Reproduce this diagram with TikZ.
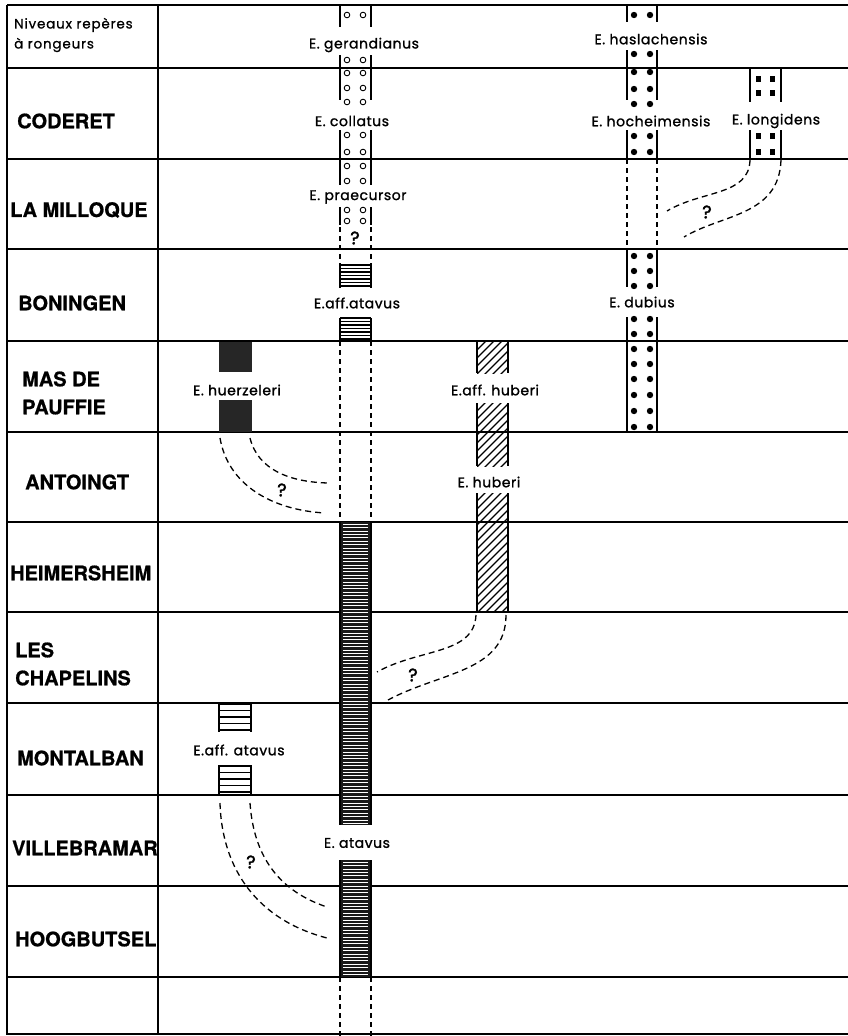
\documentclass[tikz,border=0pt]{standalone}
\usepackage{fontspec}
\setmainfont{TeX Gyre Heros}[BoldFeatures={FakeBold=0.8}]
\newfontfamily\geo[LetterSpace=4,FakeBold=1.3]{Poppins}
\newfontfamily\geoq[FakeBold=2]{Poppins}
\newfontfamily\geohdr[LetterSpace=6,FakeBold=0.8]{Poppins}
\begin{document}
\begin{tikzpicture}[x=1pt,y=-1pt,
  gridline/.style={line width=1.4pt},
  coledge/.style={line width=2pt},
  dashedge/.style={line width=1.4pt, dash pattern=on 5pt off 4pt},
  curvy/.style={line width=1.3pt, dash pattern=on 6pt off 4pt},
  rowlab/.style={font=\bfseries\fontsize{20}{24}\selectfont, anchor=west, inner sep=0pt, align=left},
  sp/.style={font=\geo\fontsize{14}{16}\selectfont, inner sep=0pt},
  qm/.style={font=\geoq\fontsize{18}{18}\selectfont, inner sep=0pt},
  hdr/.style={font=\geohdr\fontsize{13.5}{20}\selectfont, anchor=west, inner sep=0pt, align=left}]
\useasboundingbox (0,0) rectangle (848,1036);
% ---------------- table grid
\foreach \yy in {5,68,159,249,341,432,522,612,703,795,886,977,1034}
  \draw[gridline] (7,\yy) -- (848,\yy);
\draw[gridline] (7,5) -- (7,1035);
\draw[gridline] (158,5) -- (158,1035);
% ---------------- row labels
\node[hdr] (hdr) at (14,35) {Niveaux repères\\à rongeurs};
\node[rowlab] (r1) at (17,121) {CODERET};
\node[rowlab] (r2) at (10,210) {LA MILLOQUE};
\node[rowlab] (r3) at (18,303) {BONINGEN};
\node[rowlab] (r4) at (22,393) {MAS DE\\[4pt]PAUFFIE};
\node[rowlab] (r5) at (25,482) {ANTOINGT};
\node[rowlab] (r6) at (10,573) {HEIMERSHEIM};
\node[rowlab] (r7) at (15,664) {LES\\[4pt]CHAPELINS};
\node[rowlab] (r8) at (17,758) {MONTALBAN};
\node[rowlab] (r9) at (12,848) {VILLEBRAMAR};
\node[rowlab] (r10) at (15,939) {HOOGBUTSEL};
% ---------------- open circle column (340-371)
\foreach \a/\b in {5/27,55/100,130/185,207/225}{
  \draw[coledge] (340,\a) -- (340,\b);
  \draw[coledge] (371,\a) -- (371,\b);}
\foreach \yy in {15,60,73,88,102,135,152,166,181,210,221}{
  \draw[line width=0.9pt] (347,\yy) circle (2.8);
  \draw[line width=0.9pt] (363,\yy) circle (2.8);}
% dashed main column
\foreach \a/\b in {227/265,341/522,977/1036}{
  \draw[dashedge] (340,\a) -- (340,\b);
  \draw[dashedge] (371,\a) -- (371,\b);}
\node[qm] (q0) at (355,238) {?};
% Boningen aff. atavus bars
\foreach \a/\b in {265/288,318/341}{
  \foreach \yy in {0,3.5,...,23} \draw[line width=1.2pt] (340,\a+\yy) -- (371,\a+\yy);
  \draw[coledge] (340,\a) -- (340,\b);
  \draw[coledge] (371,\a) -- (371,\b);}
% E. atavus bars
\foreach \a/\b in {522/825,860/977}{
  \fill[black!90] (340,\a) rectangle (371,\b);
  \pgfmathsetmacro{\n}{int((\b-\a)/3.4)}
  \foreach \k in {1,...,\n} \draw[white, line width=0.8pt] (343,\a+\k*3.4-1.2) -- (368,\a+\k*3.4-1.2);
  \draw[coledge] (340,\a) -- (340,\b);
  \draw[coledge] (371,\a) -- (371,\b);}
% ---------------- filled dot column (627-657)
\foreach \a/\b in {5/22,50/100,130/158,249/287,317/432}{
  \draw[coledge] (627,\a) -- (627,\b);
  \draw[coledge] (657,\a) -- (657,\b);}
\foreach \yy in {15,54,72,89,104,136,152,256,271,286,319,334,349,364,379,395,411,427}{
  \fill (634,\yy) circle (3.2);
  \fill (650,\yy) circle (3.2);}
\draw[dashedge] (627,159) -- (627,249);
\draw[dashedge] (657,159) -- (657,249);
% ---------------- longidens column (750-781)
\foreach \a/\b in {68/102,130/158}{
  \draw[coledge] (750,\a) -- (750,\b);
  \draw[coledge] (781,\a) -- (781,\b);}
\foreach \yy in {79,93,136,152}{
  \fill (755.5,\yy-2.8) rectangle +(5.6,5.6);
  \fill (769.5,\yy-2.8) rectangle +(5.6,5.6);}
% ---------------- huerzeleri boxes (219-252)
\fill[black!85] (219,342) rectangle (252,372);
\fill[black!85] (219,400) rectangle (252,432);
% ---------------- huberi hatched (477-508)
\foreach \a/\b in {342/373,403/466,493/612}{
  \begin{scope}
    \clip (477,\a) rectangle (508,\b);
    \foreach \s in {-40,-32,...,180} \draw[line width=1.2pt] (477,\a+\s) -- ++(40,-40);
  \end{scope}
  \draw[coledge] (477,\a) -- (477,\b);
  \draw[coledge] (508,\a) -- (508,\b);}
% ---------------- Montalban aff. atavus (219-251)
\foreach \a/\b in {703/732,765/795}{
  \foreach \yy in {1,7.5,...,30} \draw[line width=1.2pt] (219,\a+\yy) -- (251,\a+\yy);
  \draw[coledge] (219,\a) -- (219,\b);
  \draw[coledge] (251,\a) -- (251,\b);}
% ---------------- species labels
\node[sp] (ger) at (364,45) {E. gerandianus};
\node[sp] (has) at (651,39) {E. haslachensis};
\node[sp] (col) at (352,121) {E. collatus};
\node[sp] (hoc) at (651,121) {E. hocheimensis};
\node[sp] (lon) at (776,121) {E. longidens};
\node[sp] (pra) at (358,197) {E. praecursor};
\node[sp] (aat1) at (357,303) {E.aff.atavus};
\node[sp] (dub) at (642,302) {E. dubius};
\node[sp] (hue) at (237,390) {E. huerzeleri};
\node[sp] (ahu) at (495,390) {E.aff. huberi};
\node[sp] (hub) at (489,482) {E. huberi};
\node[sp] (aat2) at (239,750) {E.aff. atavus};
\node[sp] (ata) at (357,843) {E. atavus};
% ---------------- uncertain links
\coordinate (L1a) at (750,160); \coordinate (L1b) at (667,211);
\coordinate (L2a) at (781,160); \coordinate (L2b) at (684,237);
\draw[curvy] (L1a) .. controls (749,196) and (702,190) .. (L1b);
\draw[curvy] (L2a) .. controls (779,216) and (722,214) .. (L2b);
\node[qm] (q1) at (707,212) {?};
\coordinate (H1a) at (220,438); \coordinate (H1b) at (325,513);
\coordinate (H2a) at (250,438); \coordinate (H2b) at (328,483);
\draw[curvy] (H1a) .. controls (228,485) and (272,510) .. (H1b);
\draw[curvy] (H2a) .. controls (258,470) and (290,482) .. (H2b);
\node[qm] (q2) at (282,490) {?};
\coordinate (B1a) at (476,615); \coordinate (B1b) at (377,672);
\coordinate (B2a) at (506,615); \coordinate (B2b) at (388,700);
\draw[curvy] (B1a) .. controls (474,655) and (420,648) .. (B1b);
\draw[curvy] (B2a) .. controls (506,672) and (440,672) .. (B2b);
\node[qm] (q3) at (413,675) {?};
\coordinate (M1a) at (220,803); \coordinate (M1b) at (327,938);
\coordinate (M2a) at (250,803); \coordinate (M2b) at (327,907);
\draw[curvy] (M1a) .. controls (222,870) and (258,920) .. (M1b);
\draw[curvy] (M2a) .. controls (254,860) and (282,892) .. (M2b);
\node[qm] (q4) at (251,862) {?};
\end{tikzpicture}
\end{document}
